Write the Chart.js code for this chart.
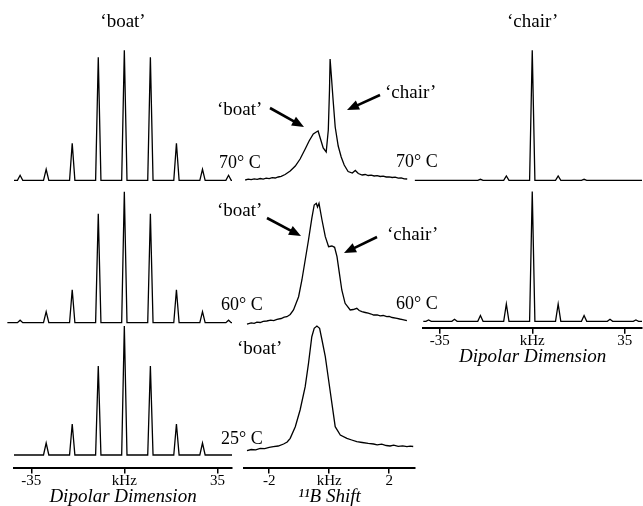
<!DOCTYPE html>
<html>
<head>
<meta charset="utf-8">
<script src="https://cdn.jsdelivr.net/npm/chart.js@4.4.0/dist/chart.umd.min.js"></script>
<style>
body{margin:0;background:#fff;width:643px;height:506px;overflow:hidden;position:relative;font-family:'Liberation Serif','Times New Roman',serif;color:#000}
.box{position:absolute}
.lbl{position:absolute;font-size:18px;line-height:18px;white-space:nowrap}
.ann{font-size:19px;line-height:19px}
#arrows{position:absolute;left:0;top:0}
</style>
</head>
<body>
<div class="box" style="left:0;top:0;width:240px;height:506px"><canvas id="boat"></canvas></div>
<div class="box" style="left:236px;top:0;width:184px;height:506px"><canvas id="shift"></canvas></div>
<div class="box" style="left:410px;top:0;width:233px;height:367px"><canvas id="chair"></canvas></div>

<div class="lbl" style="left:219px;top:153px">70° C</div>
<div class="lbl" style="left:221px;top:295px">60° C</div>
<div class="lbl" style="left:221px;top:429px">25° C</div>
<div class="lbl" style="left:396px;top:152px">70° C</div>
<div class="lbl" style="left:396px;top:294px">60° C</div>

<div class="lbl ann" style="left:217px;top:99px">‘boat’</div>
<div class="lbl ann" style="left:385px;top:82px">‘chair’</div>
<div class="lbl ann" style="left:217px;top:200px">‘boat’</div>
<div class="lbl ann" style="left:387px;top:224px">‘chair’</div>
<div class="lbl ann" style="left:237px;top:338px">‘boat’</div>

<svg id="arrows" width="643" height="506"></svg>

<script>
// dipolar dimension: sideband positions (kHz) and heights (a.u.)
const dipolarPos = [-39.2, -29.4, -19.6, -9.8, 0, 9.8, 19.6, 29.4, 39.2];
const boat70 = [5, 11, 37, 123, 130, 123, 37, 11, 5];
const boat60 = [2.5, 11, 33, 109, 131, 109, 33, 11, 2.5];
const boat25 = [0, 12, 31, 89, 129, 89, 31, 12, 0];
const chair70 = [0, 0, 1, 4.3, 130, 4.3, 1, 0, 0];
const chair60 = [1.3, 2, 5.7, 17.3, 129.7, 17.3, 5.7, 2, 1.3];
const dipolarTicks = [-35, 0, 35];

// 11B shift spectra, [kHz, intensity]
const shift70 = [[-2.8,0],[-2.7,0.8],[-2.6,0.3],[-2.5,1.2],[-2.4,0.7],[-2.3,1.5],[-2.2,0.9],[-2.1,1.8],[-2.0,1.4],[-1.9,2.3],[-1.8,2.0],[-1.7,3.0],[-1.6,3.6],[-1.47,5.5],[-1.3,9],[-1.13,14],[-0.97,21],[-0.8,31],[-0.67,39],[-0.53,46],[-0.43,48],[-0.37,49],[-0.33,45],[-0.3,42],[-0.2,32],[-0.1,28],[-0.03,50],[0.01,90],[0.03,121],[0.07,105],[0.13,80],[0.2,53],[0.3,34],[0.4,23],[0.5,15],[0.63,8.5],[0.77,7],[0.87,9.5],[0.97,6.5],[1.1,5],[1.2,5.5],[1.3,4.5],[1.4,4.8],[1.5,4],[1.6,4.3],[1.7,3.5],[1.8,3.8],[1.9,3],[2.0,3.2],[2.1,2.5],[2.2,2.8],[2.3,1.8],[2.4,2.2],[2.5,1.2],[2.6,1]];
const shift60 = [[-2.74,0],[-2.6,1.2],[-2.5,0.6],[-2.41,1.8],[-2.3,1.5],[-2.2,2.6],[-2.08,3],[-1.95,3.8],[-1.85,3.4],[-1.74,4.7],[-1.6,5.5],[-1.5,6.8],[-1.41,7.3],[-1.3,9.5],[-1.19,14],[-1.02,27.3],[-0.91,44],[-0.8,64],[-0.69,84],[-0.58,105.7],[-0.5,119],[-0.43,120.7],[-0.39,117],[-0.34,120.7],[-0.24,104],[-0.13,87.3],[-0.02,77.3],[0.09,78],[0.18,76.7],[0.26,67.3],[0.34,50.7],[0.42,34],[0.53,20.7],[0.7,14],[0.8,14.5],[0.92,15.7],[1.0,13.5],[1.09,12.3],[1.2,11.5],[1.3,10.8],[1.4,10],[1.48,9],[1.6,9.2],[1.7,8.2],[1.8,8.5],[1.92,7.3],[2.0,7.6],[2.1,6.5],[2.26,5.7],[2.35,5.0],[2.45,4.4],[2.59,3.3]];
const shift25 = [[-2.74,0.3],[-2.6,1.5],[-2.45,1.2],[-2.3,2.7],[-2.15,2.4],[-2.0,3.6],[-1.86,4.3],[-1.7,5],[-1.52,7],[-1.4,9],[-1.3,12.7],[-1.13,24.3],[-0.97,41],[-0.8,64.3],[-0.69,87.7],[-0.58,114.3],[-0.5,122.7],[-0.41,125],[-0.32,122.7],[-0.24,111],[-0.13,94.3],[-0.02,71],[0.09,47.7],[0.2,24.3],[0.37,16],[0.59,12.7],[0.75,11],[0.92,9.3],[1.1,8.5],[1.3,7.6],[1.48,7],[1.6,6.2],[1.75,6.8],[1.9,5.5],[2.03,5],[2.15,5.8],[2.3,4.6],[2.45,5.2],[2.59,4.3],[2.7,4.9],[2.8,4.5]];
const shiftTicks = [-2, 0, 2];

Chart.defaults.font.family = "'Liberation Serif','Times New Roman',serif";
Chart.defaults.color = '#000';

const PEAK_HW = 1.0; // half base width of a sideband, kHz

function sticks(heights, from, to) {
  const pts = [{x: from, y: 0}];
  dipolarPos.forEach((p, i) => {
    pts.push({x: p - PEAK_HW, y: 0}, {x: p, y: heights[i]}, {x: p + PEAK_HW, y: 0});
  });
  pts.push({x: to, y: 0});
  return pts;
}
const pairs = arr => arr.map(d => ({x: d[0], y: d[1]}));

// each trace gets its own hidden y scale, baseline put at a given pixel row
function baselines(rows) {
  return {
    id: 'baselines',
    afterLayout(chart) {
      const a = chart.chartArea;
      for (const id in rows) {
        const s = chart.scales[id];
        s.min = rows[id] - a.bottom;
        s.max = s.min + (a.bottom - a.top);
        s.configure();
      }
    }
  };
}

function line(data, axis) {
  return {data: data, yAxisID: axis, borderColor: '#000', borderWidth: 1.3, pointRadius: 0, tension: 0, clip: false};
}

function bottomAxis(min, max, ticks, title) {
  return {
    type: 'linear', position: 'bottom', min: min, max: max,
    afterBuildTicks: s => { s.ticks = ticks.map(v => ({value: v})); },
    afterFit: s => { s.height = 38.5; },
    grid: {display: true, drawOnChartArea: false, drawTicks: true, tickLength: 6, color: '#000', lineWidth: 1.5},
    border: {display: true, color: '#000', width: 2},
    ticks: {color: '#000', font: {size: 15, lineHeight: 1}, padding: 0, maxRotation: 0, autoSkip: false,
      callback: v => v === 0 ? 'kHz' : String(v)},
    title: {display: true, text: title, color: '#000', font: {size: 19, style: 'italic', lineHeight: 1}, padding: {top: 0, bottom: 0}}
  };
}
const hidden = {type: 'linear', display: false};

function opts(xAxis, yIds, pad, title) {
  const scales = {x: xAxis};
  yIds.forEach(id => { scales[id] = hidden; });
  return {
    responsive: true, maintainAspectRatio: false, animation: false, devicePixelRatio: 1,
    layout: {padding: pad},
    scales: scales,
    plugins: {
      legend: {display: false}, tooltip: {enabled: false},
      title: title ? {display: true, text: title.text, fullSize: title.full, color: '#000',
        font: {size: 19, weight: 'normal', lineHeight: 1}, padding: {top: 13, bottom: 0}} : {display: false}
    }
  };
}

new Chart(document.getElementById('boat'), {
  type: 'line',
  data: {datasets: [
    line(sticks(boat70, -41.5, 40.5), 'b70'),
    line(sticks(boat60, -44, 40.5), 'b60'),
    line(sticks(boat25, -41.5, 40.5), 'b25')
  ]},
  options: opts(bottomAxis(-41.5, 40.5, dipolarTicks, 'Dipolar Dimension'), ['b70', 'b60', 'b25'],
    {left: 14, right: 8, top: 0, bottom: 0}, {text: '‘boat’', full: true}),
  plugins: [baselines({b70: 180.3, b60: 322.7, b25: 455})]
});

new Chart(document.getElementById('shift'), {
  type: 'line',
  data: {datasets: [
    line(pairs(shift70), 's70'),
    line(pairs(shift60), 's60'),
    line(pairs(shift25), 's25')
  ]},
  options: opts(bottomAxis(-2.84, 2.86, shiftTicks, '¹¹B Shift'), ['s70', 's60', 's25'],
    {left: 8, right: 5, top: 0, bottom: 0}, null),
  plugins: [baselines({s70: 180, s60: 324, s25: 451})]
});

new Chart(document.getElementById('chair'), {
  type: 'line',
  data: {datasets: [
    line(sticks(chair70, -44.4, 41.5), 'c70'),
    line(sticks(chair60, -41.2, 41.5), 'c60')
  ]},
  options: opts(bottomAxis(-41.2, 41.5, dipolarTicks, 'Dipolar Dimension'), ['c70', 'c60'],
    {left: 13.3, right: 1, top: 0, bottom: 0.8}, {text: '‘chair’', full: false}),
  plugins: [baselines({c70: 180.3, c60: 321.3})]
});

// annotation arrows: tail x, tail y, tip x, tip y
const arrows = [[270, 108, 304, 127], [380, 95, 347, 110], [267, 218, 301, 236], [377, 237, 344, 253]];
const svg = document.getElementById('arrows');
arrows.forEach(a => {
  const dx = a[2] - a[0], dy = a[3] - a[1], len = Math.hypot(dx, dy);
  const ux = dx / len, uy = dy / len, hl = 12, hw = 5;
  const bx = a[2] - ux * hl, by = a[3] - uy * hl;
  const l = document.createElementNS('http://www.w3.org/2000/svg', 'line');
  l.setAttribute('x1', a[0]); l.setAttribute('y1', a[1]);
  l.setAttribute('x2', bx + ux * 2); l.setAttribute('y2', by + uy * 2);
  l.setAttribute('stroke', '#000'); l.setAttribute('stroke-width', '2.6');
  svg.appendChild(l);
  const p = document.createElementNS('http://www.w3.org/2000/svg', 'polygon');
  p.setAttribute('points', [a[2], a[3], bx - uy * hw, by + ux * hw, bx + uy * hw, by - ux * hw].join(' '));
  p.setAttribute('fill', '#000');
  svg.appendChild(p);
});
</script>
</body>
</html>
